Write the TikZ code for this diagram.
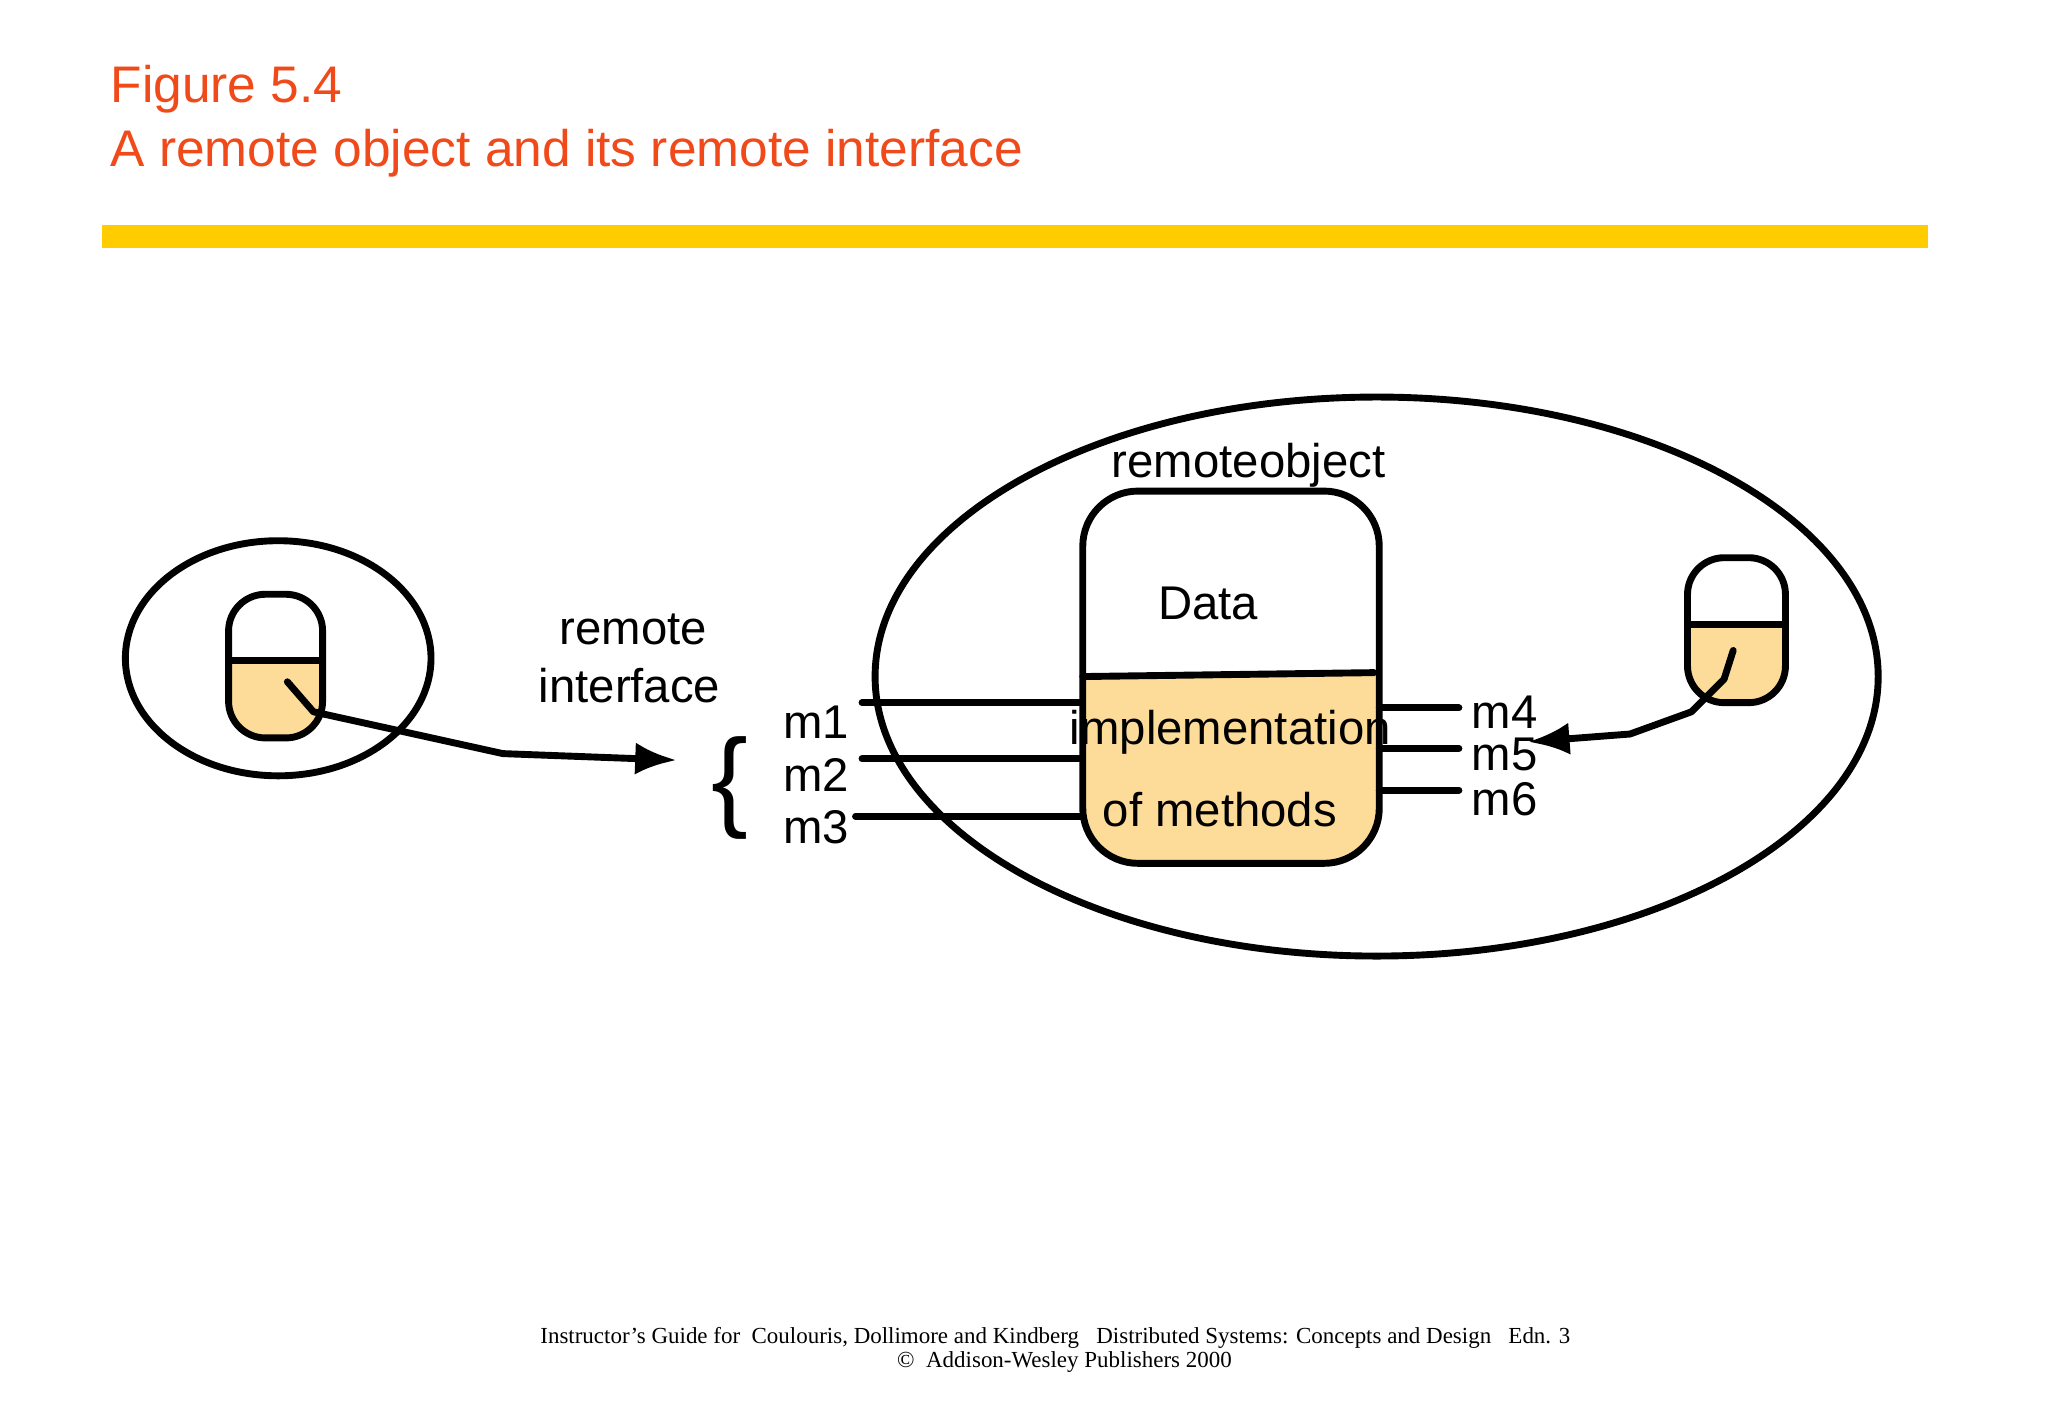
\documentclass[tikz,border=0pt]{standalone}
\usepackage{fontspec}
\setmainfont{Liberation Sans}
\newfontfamily\tms{Liberation Serif}
\usetikzlibrary{arrows.meta}
\definecolor{ttl}{HTML}{F04A1A}
\definecolor{bar}{HTML}{FFCC00}
\definecolor{tan}{HTML}{FDDC9A}
\begin{document}
\begin{tikzpicture}[x=0.01cm,y=-0.01cm,
  thick line/.style={line width=1.5pt,line cap=round,line join=round},
  lbl/.style={font=\fontsize{10.3}{12}\selectfont,inner sep=0pt},
  arr/.style={thick line,-{Latex[length=9pt,width=7pt]}}]
\useasboundingbox[fill=white] (0,0) rectangle (1568,1086);
\node[anchor=west,text=ttl,font=\fontsize{11.2}{13}\selectfont,inner sep=0pt] (t1) at (84,68) {Figure 5.4};
\node[anchor=west,text=ttl,font=\fontsize{11.2}{13}\selectfont,inner sep=0pt] (t2) at (84,117) {A remote object and its remote interface};
\fill[bar] (78,172) rectangle (1476,190);
% left ellipse and client
\draw[thick line] (213,504) ellipse [x radius=117, y radius=90];
\begin{scope}
\clip[rounded corners=8] (175,455) rectangle (247,565);
\fill[tan] (175,506) rectangle (247,565);
\end{scope}
\draw[thick line,rounded corners=8] (175,455) rectangle (247,565);
\draw[thick line] (175,506) -- (247,506);
\coordinate (a0) at (220,522);
\coordinate (a1) at (518,582);
\draw[arr] (a0) -- (240,545) -- (385,577) -- (a1);
\node[lbl] (ri1) at (485,482) {remote};
\node[lbl] (ri2) at (482,525) {interface};
\node[font=\fontsize{24}{26}\selectfont,inner sep=0pt] (br) at (559,603) {\{};
\node[lbl] (m1) at (625,553) {m1};
\node[lbl] (m2) at (625,593) {m2};
\node[lbl] (m3) at (625,633) {m3};
% big ellipse
\draw[thick line] (1054,518) ellipse [x radius=384, y radius=214];
\node[lbl] (ro) at (956,356) {remoteobject};
\begin{scope}
\clip[rounded corners=12] (829,376) rectangle (1056,661);
\fill[tan] (829,518) -- (829,661) -- (1056,661) -- (1056,515) -- cycle;
\end{scope}
\draw[thick line,rounded corners=12] (829,376) rectangle (1056,661);
\draw[thick line] (829,518) -- (1052,515);
\node[lbl] (data) at (925,462) {Data};
\node[lbl] (impl) at (942,561) {implementation};
\node[lbl] (meth) at (934,620) {of methods};
\draw[thick line] (660,538) -- (828,538);
\draw[thick line] (660,581) -- (828,581);
\draw[thick line] (655,625) -- (828,625);
\draw[thick line] (1056,542) -- (1117,542);
\draw[thick line] (1056,573) -- (1117,573);
\draw[thick line] (1056,605) -- (1117,605);
\node[lbl] (m4) at (1152,545) {m4};
\node[lbl] (m5) at (1152,578) {m5};
\node[lbl] (m6) at (1152,612) {m6};
% right client
\begin{scope}
\clip[rounded corners=8] (1292,427) rectangle (1367,538);
\fill[tan] (1292,478) rectangle (1367,538);
\end{scope}
\draw[thick line,rounded corners=8] (1292,427) rectangle (1367,538);
\draw[thick line] (1292,478) -- (1367,478);
\coordinate (b0) at (1327,498);
\coordinate (b1) at (1170,568);
\draw[arr] (b0) -- (1320,520) -- (1295,545) -- (1248,562) -- (b1);
% footer
\node[font=\tms\fontsize{5}{6}\selectfont,inner sep=0pt] (f1) at (808,1024) {Instructor’s Guide for\ \ Coulouris, Dollimore and Kindberg\ \ \ Distributed Systems: Concepts and Design\ \ \ Edn. 3};
\node[font=\tms\fontsize{5}{6}\selectfont,inner sep=0pt] (f2) at (815,1043) {©\ \ Addison-Wesley Publishers 2000};
\end{tikzpicture}
\end{document}
